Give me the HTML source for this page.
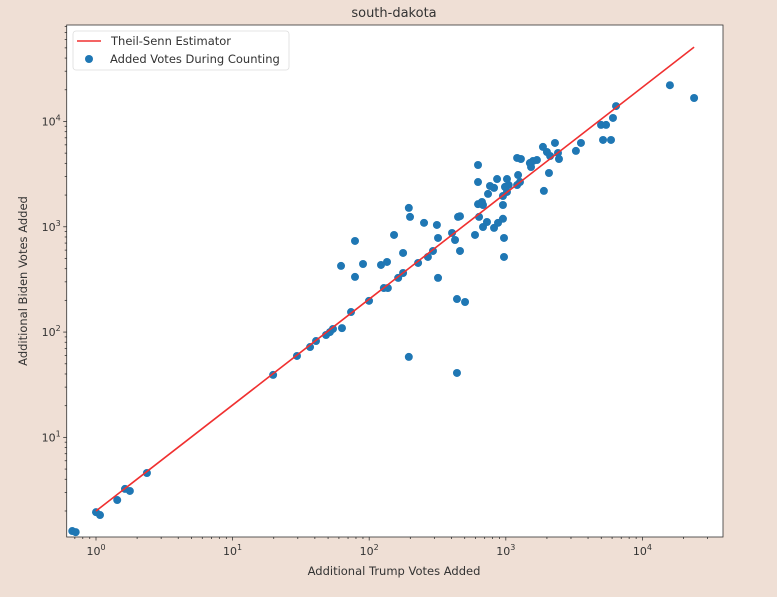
<!DOCTYPE html>
<html><head><meta charset="utf-8"><style>
html,body{margin:0;padding:0;background:#efdfd5;}
svg{display:block;font-family:"DejaVu Sans","Liberation Sans",sans-serif;}
</style></head><body>
<svg id="chart" width="777" height="597"></svg>
<script>
const trumpVotes=[0.67,0.71,1.0,1.07,1.43,1.63,1.77,2.36,19.8,29.6,36.9,40.8,48.3,51.6,54.3,63.2,73.6,99.7,128,137,163,177,228,269,293,62.2,78.7,78.7,90.1,122,135,152,177,195,199,252,313,319,319,195,439,439,503,447,462,404,425,462,595,626,626,626,669,681,637,681,728,741,766,820,863,820,877,953,953,970,970,953,1020,1050,1020,986,1210,1270,1230,1210,1290,1500,1530,1580,1690,1900,2070,1870,2000,2110,2290,2410,2450,3260,3550,4980,5420,5150,5890,6090,6410,15900,23900];
const bidenVotes=[1.29,1.26,1.95,1.83,2.54,3.24,3.10,4.59,39.2,59.3,72.1,82.2,93.8,100,107,109,155,198,262,262,327,364,453,517,589,425,733,334,443,434,463,836,564,1510,1240,1090,1040,783,327,58.1,40.9,206,193,1240,1260,873,749,589,836,3860,2660,1640,1720,1610,1240,995,1110,2050,2440,2340,2840,975,1090,1190,1610,783,517,1960,2140,2490,2840,2390,2490,2660,3100,4500,4400,4030,3690,4210,4300,2190,3240,5730,5130,4700,6250,5020,4400,5250,6250,9270,9270,6670,6670,10800,14000,22100,16700];
const fitCoef=[2.0,1.006];
const xTickExps=[0,1,2,3,4];
const yTickExps=[1,2,3,4];
const NS='http://www.w3.org/2000/svg';
const svg=document.getElementById('chart');
const L=66.7,R=723,T=25,B=537;
const xMin=-0.2145,xMax=4.590,yMin=0.054,yMax=4.916;
const X=v=>L+(Math.log10(v)-xMin)/(xMax-xMin)*(R-L);
const Y=v=>B-(Math.log10(v)-yMin)/(yMax-yMin)*(B-T);
function mk(tag,attrs,parent){const e=document.createElementNS(NS,tag);for(const k in attrs)e.setAttribute(k,attrs[k]);(parent||svg).appendChild(e);return e;}
const bg=mk('rect',{x:L,y:T,width:R-L,height:B-T,fill:'#fff'});


// ticks
const gx=mk('g',{stroke:'#333','stroke-width':0.8});


for(let e=-1;e<=4;e++){for(let m=1;m<10;m++){const v=m*Math.pow(10,e);const lv=Math.log10(v);if(lv<xMin||lv>xMax)continue;const px=X(v);mk('line',{x1:px,x2:px,y1:B,y2:B+(m==1?3.5:2)},gx);}}
const gy=mk('g',{stroke:'#333','stroke-width':0.8});


for(let e=0;e<=4;e++){for(let m=1;m<10;m++){const v=m*Math.pow(10,e);const lv=Math.log10(v);if(lv<yMin||lv>yMax)continue;const py=Y(v);mk('line',{x1:L,x2:L-(m==1?3.5:2),y1:py,y2:py},gy);}}
xTickExps.forEach(e=>{const t=mk('text',{x:X(Math.pow(10,e)),y:B+18,'text-anchor':'middle','font-size':11,fill:'#333'});t.innerHTML='10<tspan dy="-5" font-size="8">'+e+'</tspan>';

});
yTickExps.forEach(e=>{const t=mk('text',{x:L-6,y:Y(Math.pow(10,e))+4,'text-anchor':'end','font-size':11,fill:'#333'});t.innerHTML='10<tspan dy="-5" font-size="8">'+e+'</tspan>';

});
// points
const gp=mk('g',{fill:'#1f77b4'});


trumpVotes.forEach((v,i)=>{const c=mk('circle',{cx:X(v),cy:Y(bidenVotes[i]),r:4},gp);

});
// fit line
const x0=1,x1=Math.max(...trumpVotes);
const f=x=>fitCoef[0]*Math.pow(x,fitCoef[1]);
const ln=mk('line',{x1:X(x0),y1:Y(f(x0)),x2:X(x1),y2:Y(f(x1)),stroke:'#f03030','stroke-width':1.6});


const fr=mk('rect',{x:L,y:T,width:R-L,height:B-T,fill:'none',stroke:'#333','stroke-width':0.8});


// legend
const lg=mk('g',{});


mk('rect',{x:73,y:31,width:216,height:39,rx:3,fill:'#fff',stroke:'#ddd','stroke-width':0.8},lg);
mk('line',{x1:77,x2:101,y1:41,y2:41,stroke:'#f03030','stroke-width':1.6},lg);
mk('circle',{cx:89,cy:59,r:4,fill:'#1f77b4'},lg);
const l1=mk('text',{x:111,y:45,'font-size':11.5,fill:'#333'},lg);l1.textContent='Theil-Senn Estimator';


const l2=mk('text',{x:110,y:63,'font-size':11.5,fill:'#333'},lg);l2.textContent='Added Votes During Counting';


const ti=mk('text',{x:394,y:17,'text-anchor':'middle','font-size':13,fill:'#333'});ti.textContent='south-dakota';


const xt=mk('text',{x:394,y:575,'text-anchor':'middle','font-size':11.5,fill:'#333'});xt.textContent='Additional Trump Votes Added';


const yt=mk('text',{x:0,y:0,'text-anchor':'middle','font-size':11.5,fill:'#333',transform:'translate(27,281) rotate(-90)'});yt.textContent='Additional Biden Votes Added';


</script>
</body></html>
